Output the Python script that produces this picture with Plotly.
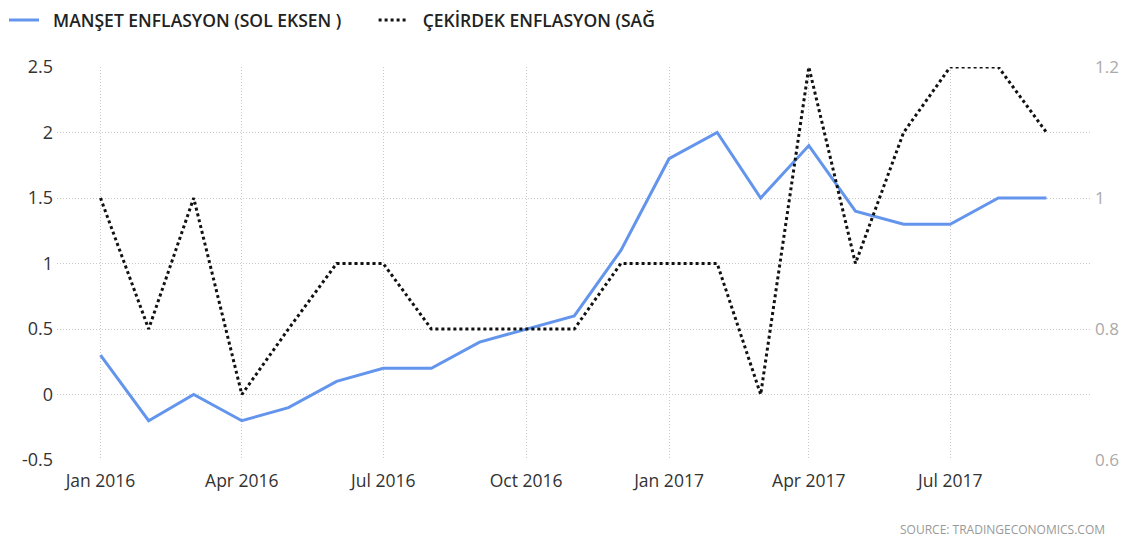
import plotly.graph_objects as go

months = ["2016-01-01", "2016-02-01", "2016-03-01", "2016-04-01", "2016-05-01", "2016-06-01",
          "2016-07-01", "2016-08-01", "2016-09-01", "2016-10-01", "2016-11-01", "2016-12-01",
          "2017-01-01", "2017-02-01", "2017-03-01", "2017-04-01", "2017-05-01", "2017-06-01",
          "2017-07-01", "2017-08-01", "2017-09-01"]
manset = [0.3, -0.2, 0.0, -0.2, -0.1, 0.1, 0.2, 0.2, 0.4, 0.5, 0.6, 1.1,
          1.8, 2.0, 1.5, 1.9, 1.4, 1.3, 1.3, 1.5, 1.5]
cekirdek = [1.0, 0.8, 1.0, 0.7, 0.8, 0.9, 0.9, 0.8, 0.8, 0.8, 0.8, 0.9,
            0.9, 0.9, 0.7, 1.2, 0.9, 1.1, 1.2, 1.2, 1.1]
tick_vals = ["2016-01-01", "2016-04-01", "2016-07-01", "2016-10-01", "2017-01-01", "2017-04-01", "2017-07-01"]
tick_text = ["Jan 2016", "Apr 2016", "Jul 2016", "Oct 2016", "Jan 2017", "Apr 2017", "Jul 2017"]
left_ticks = [-0.5, 0, 0.5, 1, 1.5, 2, 2.5]
left_text = ["-0.5", "0", "0.5", "1", "1.5", "2", "2.5"]
right_ticks = [0.6, 0.8, 1.0, 1.2]
right_text = ["0.6", "0.8", "1", "1.2"]

FONT = "Open Sans, sans-serif"
NB = "\u00a0"

fig = go.Figure()
fig.add_trace(go.Scatter(x=months, y=manset, mode="lines",
                         name=NB * 2 + "MANŞET ENFLASYON (SOL EKSEN )" + NB * 6,
                         line=dict(color="#6495ED", width=3), yaxis="y"))
fig.add_trace(go.Scatter(x=months, y=cekirdek, mode="lines",
                         name=NB * 2 + "ÇEKİRDEK ENFLASYON (SAĞ",
                         line=dict(color="#111111", width=3, dash="dot"), yaxis="y2"))

fig.update_layout(
    width=1129, height=540,
    margin=dict(l=57, r=39, t=67, b=80, autoexpand=False),
    paper_bgcolor="white", plot_bgcolor="white",
    font=dict(family=FONT, size=14, color="#333333"),
    showlegend=True,
    legend=dict(orientation="h", x=-0.0513, y=1.165, xref="paper", yref="paper",
                xanchor="left", yanchor="top",
                font=dict(family=FONT, size=17.5, color="#222222", weight=600),
                itemwidth=30, traceorder="normal", bgcolor="rgba(0,0,0,0)"),
    xaxis=dict(type="date", range=["2015-12-04", "2017-09-29"], tickvals=tick_vals, ticktext=tick_text,
               showgrid=True, gridcolor="#c8c8c8", griddash="1px,2px", gridwidth=1,
               zeroline=False, showline=False, ticks="", automargin=False,
               tickfont=dict(size=17.5, color="#333333", weight=500),
               ticklabelstandoff=8),
    yaxis=dict(range=[-0.5, 2.5], tickvals=left_ticks, ticktext=left_text,
               showgrid=True, gridcolor="#c8c8c8", griddash="1px,2px", gridwidth=1,
               zeroline=False, showline=False, ticks="", automargin=False,
               tickfont=dict(size=18, color="#333333", weight=500),
               ticklabelstandoff=3),
    yaxis2=dict(range=[0.6, 1.2], tickvals=right_ticks, ticktext=right_text,
                overlaying="y", side="right", showgrid=False, zeroline=False, showline=False,
                ticks="", automargin=False, tickfont=dict(size=17, color="#aaaaaa"), ticklabelstandoff=4),
    annotations=[dict(text="SOURCE: TRADINGECONOMICS.COM", xref="paper", yref="paper", x=1.0165, y=-0.1756,
                      xanchor="right", yanchor="middle", showarrow=False,
                      font=dict(family=FONT, size=12, color="#999999"))],
)

fig.write_html("out.html", config={"displayModeBar": False},
               post_script="document.body.style.margin='0';document.body.style.overflow='hidden';")
